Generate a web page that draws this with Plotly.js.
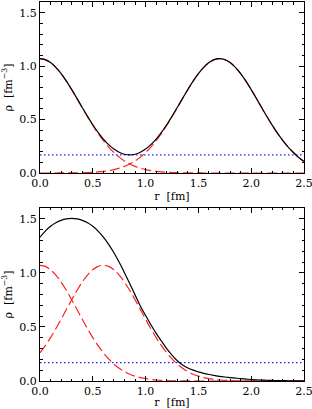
<!DOCTYPE html>
<html>
<head>
<meta charset="utf-8">
<script src="https://cdn.plot.ly/plotly-3.0.1.min.js"></script>
<style>html,body{margin:0;padding:0;background:#fff;}#chart{width:312px;height:409px;}</style>
</head>
<body>
<div id="chart"></div>
<script>
const r = [0.00,0.05,0.10,0.15,0.20,0.25,0.30,0.35,0.40,0.45,0.50,0.55,0.60,0.65,0.70,0.75,0.80,0.85,0.90,0.95,
  1.00,1.05,1.10,1.15,1.20,1.25,1.30,1.35,1.40,1.45,1.50,1.55,1.60,1.65,1.70,1.75,1.80,1.85,1.90,1.95,
  2.00,2.05,2.10,2.15,2.20,2.25,2.30,2.35,2.40,2.45,2.50];

const topRed1 = [1.0700,1.0607,1.0331,0.9888,0.9299,0.8593,0.7803,0.6962,0.6104,0.5258,0.4451,0.3702,0.3026,0.2430,0.1917,0.1487,0.1133,0.0848,0.0624,0.0451,
  0.0320,0.0224,0.0153,0.0103,0.0068,0.0044,0.0028,0.0018,0.0011,0.0007,0.0004,0.0002,0.0001,0.0001,0,0,0,0,0,0,
  0,0,0,0,0,0,0,0,0,0,0];
const topRed2 = [0,0.0001,0.0001,0.0002,0.0004,0.0007,0.0011,0.0018,0.0028,0.0044,0.0068,0.0103,0.0153,0.0224,0.0320,0.0451,0.0624,0.0848,0.1133,0.1487,
  0.1917,0.2430,0.3026,0.3702,0.4451,0.5258,0.6104,0.6962,0.7803,0.8593,0.9299,0.9888,1.0331,1.0607,1.0700,1.0607,1.0331,0.9888,0.9299,0.8593,
  0.7803,0.6962,0.6104,0.5258,0.4451,0.3702,0.3026,0.2430,0.1917,0.1450,0.1080];
const topTotal = [1.0700,1.0608,1.0332,0.9890,0.9303,0.8600,0.7814,0.6980,0.6132,0.5302,0.4519,0.3805,0.3179,0.2654,0.2237,0.1938,0.1757,0.1696,0.1757,0.1938,
  0.2237,0.2654,0.3179,0.3805,0.4519,0.5302,0.6132,0.6980,0.7814,0.8600,0.9303,0.9890,1.0332,1.0608,1.0700,1.0607,1.0331,0.9888,0.9299,0.8593,
  0.7803,0.6962,0.6104,0.5258,0.4451,0.3702,0.3026,0.2430,0.1917,0.1450,0.1080];

const botRed1 = [1.0700,1.0596,1.0289,0.9796,0.9147,0.8374,0.7518,0.6618,0.5713,0.4836,0.4014,0.3267,0.2608,0.2041,0.1566,0.1179,0.0870,0.0629,0.0447,0.0311,
  0.0212,0.0142,0.0093,0.0060,0.0038,0.0023,0.0014,0.0008,0.0005,0.0003,0.0002,0.0001,0,0,0,0,0,0,0,0,
  0,0,0,0,0,0,0,0,0,0,0];
const botRed2 = [0.2608,0.3267,0.4014,0.4836,0.5713,0.6618,0.7518,0.8374,0.9147,0.9796,1.0289,1.0596,1.0700,1.0596,1.0289,0.9796,0.9147,0.8374,0.7518,0.6618,
  0.5713,0.4836,0.4014,0.3267,0.2608,0.2041,0.1566,0.1179,0.0870,0.0629,0.0447,0.0311,0.0212,0.0142,0.0093,0.0060,0.0038,0.0023,0.0014,0.0008,
  0.0005,0.0003,0.0002,0.0001,0,0,0,0,0,0,0];
const botTotal = [1.3308,1.3863,1.4303,1.4632,1.4860,1.4992,1.5036,1.4992,1.4860,1.4632,1.4303,1.3863,1.3308,1.2637,1.1855,1.0975,1.0017,0.9003,0.7965,0.6929,
  0.605,0.520,0.440,0.370,0.300,0.240,0.187,0.148,0.120,0.100,0.085,0.071,0.060,0.051,0.043,0.037,0.032,0.027,0.022,0.018,
  0.014,0.011,0.009,0.007,0.005,0.004,0.003,0.002,0.002,0.001,0.001];

const refX = [0, 2.5];
const refY = [0.17, 0.17];

const xTicks = [0, 0.5, 1.0, 1.5, 2.0, 2.5];
const xTickText = ['0.0','0.5','1.0','1.5','2.0','2.5'];
const yTicks = [0, 0.5, 1.0, 1.5];
const yTickText = ['0.0','0.5','1.0','1.5'];

const RED = '#ff2020', BLK = '#000000', BLU = '#2020ff';
const dashRed = '10px,4px';
const FONT = 'DejaVu Serif, Liberation Serif, serif';

function traces(xa, ya, red1, red2, total) {
  return [
    {x: refX, y: refY, xaxis: xa, yaxis: ya, mode: 'lines', line: {color: BLU, width: 1.3, dash: '1.5px,2.5px'}, hoverinfo: 'skip'},
    {x: r, y: red1, xaxis: xa, yaxis: ya, mode: 'lines', line: {color: RED, width: 1.2, dash: dashRed, shape: 'spline'}},
    {x: r, y: red2, xaxis: xa, yaxis: ya, mode: 'lines', line: {color: RED, width: 1.2, dash: dashRed, shape: 'spline'}},
    {x: r, y: total, xaxis: xa, yaxis: ya, mode: 'lines', line: {color: BLK, width: 1.2, shape: 'spline'}}
  ];
}

const data = [].concat(
  traces('x', 'y', topRed1, topRed2, topTotal),
  traces('x2', 'y2', botRed1, botRed2, botTotal)
);

function xaxis(anchor) {
  return {
    anchor: anchor, domain: [0, 1], range: [0, 2.5],
    showline: true, mirror: 'allticks', linecolor: '#000', linewidth: 1,
    ticks: 'inside', ticklen: 5, tickwidth: 1, tickcolor: '#000',
    tickvals: xTicks, ticktext: xTickText, ticklabeloverflow: 'allow',
    minor: {dtick: 0.1, tick0: 0, ticks: 'inside', ticklen: 2.5, tickwidth: 1, tickcolor: '#000', showgrid: false},
    showgrid: false, zeroline: false,
    tickfont: {family: FONT, size: 11, color: '#000'},
    title: {text: 'r  [fm]', font: {family: FONT, size: 11, color: '#000'}, standoff: 2}
  };
}
function yaxis(anchor, domain) {
  return {
    anchor: anchor, domain: domain, range: [0, 1.6],
    showline: true, mirror: 'allticks', linecolor: '#000', linewidth: 1,
    ticks: 'inside', ticklen: 5, tickwidth: 1, tickcolor: '#000',
    tickvals: yTicks, ticktext: yTickText, ticklabeloverflow: 'allow',
    minor: {dtick: 0.1, tick0: 0, ticks: 'inside', ticklen: 2.5, tickwidth: 1, tickcolor: '#000', showgrid: false},
    showgrid: false, zeroline: false,
    tickfont: {family: FONT, size: 11, color: '#000'},
    title: {text: 'ρ  [fm<sup>−3</sup>]', font: {family: FONT, size: 11, color: '#000'}, standoff: 4}
  };
}

const layout = {
  width: 312, height: 409,
  margin: {l: 40, r: 8, t: 2, b: 28, autoexpand: false},
  paper_bgcolor: '#fff', plot_bgcolor: '#fff',
  showlegend: false,
  xaxis: xaxis('y'),
  yaxis: yaxis('x', [0.5488, 1]),
  xaxis2: xaxis('y2'),
  yaxis2: yaxis('x2', [0, 0.4565])
};

Plotly.newPlot('chart', data, layout, {staticPlot: true, displayModeBar: false});
</script>
</body>
</html>
